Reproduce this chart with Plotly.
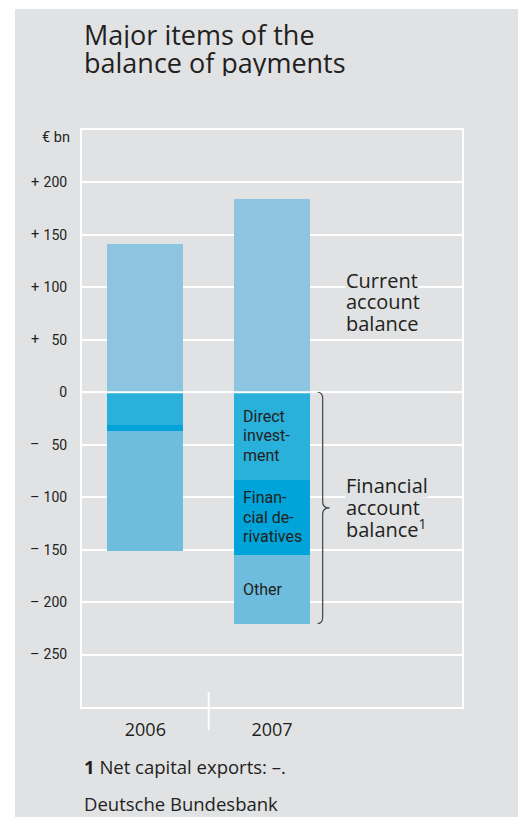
import plotly.graph_objects as go

# ---- data ----
years = ["2006", "2007"]
current_account = [141.5, 184.0]
direct_investment = [-31.0, -84.0]
financial_derivatives = [-6.0, -71.5]
other = [-114.0, -65.0]

y_ticks = [200, 150, 100, 50, 0, -50, -100, -150, -200, -250]
y_tick_text = ["200", "150", "100", "50", "0", "50", "100", "150", "200", "250"]
y_tick_sign = ["+", "+", "+", "+", "", "\u2013", "\u2013", "\u2013", "\u2013", "\u2013"]

# ---- style ----
BG = "#e1e2e4"
TXT = "#231f20"
C_CA = "#8dc4e0"
C_DI = "#29b0db"
C_FD = "#00a4d9"
C_OT = "#6ebcde"
FONT = "Open Sans"
FONT_N = "Roboto"

xpos = list(range(len(years)))
W, H = 518, 817
ML, MR, MT, MB = 82, 56, 130, 110
PW, PH = W - ML - MR, H - MT - MB


def px_x(p):
    return (p - ML) / PW


def px_y(p):
    return (H - MB - p) / PH


fig = go.Figure()
for name, vals, col in [
    ("Current account balance", current_account, C_CA),
    ("Direct investment", direct_investment, C_DI),
    ("Financial derivatives", financial_derivatives, C_FD),
    ("Other", other, C_OT),
]:
    fig.add_trace(go.Bar(x=xpos, y=vals, name=name, width=0.6,
                         marker=dict(color=col, line=dict(width=0)),
                         hoverinfo="skip", showlegend=False))

fig.update_layout(
    width=W, height=H,
    margin=dict(l=ML, r=MR, t=MT, b=MB),
    paper_bgcolor="white", plot_bgcolor=BG,
    barmode="relative", bargap=0,
    font=dict(family=FONT, color=TXT),
    xaxis=dict(range=[-0.5, 2.5], tickvals=xpos, ticktext=years,
               showgrid=False, zeroline=False, showline=True, mirror=True,
               linecolor="white", linewidth=2, ticks="",
               tickfont=dict(family=FONT, size=18, color=TXT),
               ticklabelstandoff=5),
    yaxis=dict(range=[-300, 250], tickvals=y_ticks, ticktext=y_tick_text,
               showgrid=True, gridcolor="white", gridwidth=2, zeroline=False,
               showline=True, mirror=True, linecolor="white", linewidth=2,
               ticks="", tickfont=dict(family=FONT_N, size=14, color=TXT),
               ticklabelstandoff=10),
)

shapes = []
# gray background panel
shapes.append(dict(type="rect", xref="paper", yref="paper", layer="below",
                   x0=px_x(15), x1=px_x(W + 5), y0=px_y(H + 5), y1=px_y(9),
                   fillcolor=BG, line=dict(width=0)))
# zero line over bars
shapes.append(dict(type="line", xref="paper", yref="y", x0=0, x1=1, y0=0, y1=0,
                   line=dict(color="white", width=2), layer="above"))
# separator tick between years
shapes.append(dict(type="line", xref="x", yref="paper", x0=0.5, x1=0.5,
                   y0=px_y(730), y1=px_y(692), line=dict(color="white", width=2)))
# brace for 2007 financial account
y0 = 0.0
y1 = direct_investment[1] + financial_derivatives[1] + other[1]
ym = (y0 + y1) / 2
xs, xv, xt = 1.36, 1.40, 1.455
r = 6.0
path = (f"M {xs},{y0} Q {xv},{y0} {xv},{y0 - r} L {xv},{ym + r} "
        f"Q {xv},{ym} {xt},{ym} Q {xv},{ym} {xv},{ym - r} "
        f"L {xv},{y1 + r} Q {xv},{y1} {xs},{y1}")
shapes.append(dict(type="path", xref="x", yref="y", path=path,
                   line=dict(color="#444444", width=1.2)))
fig.update_layout(shapes=shapes)

ann = []
# title
for i, line in enumerate(["Major items of the", "balance of payments"]):
    ann.append(dict(xref="paper", yref="paper", x=px_x(82), y=px_y(34 + 28 * i),
                    xanchor="left", yanchor="middle", align="left", showarrow=False,
                    height=28, text=line, font=dict(family=FONT, size=27, color=TXT)))
# unit
ann.append(dict(xref="paper", yref="paper", x=px_x(72), y=px_y(137),
                xanchor="right", yanchor="middle", showarrow=False,
                text="\u20ac bn", font=dict(family=FONT_N, size=14.5, color=TXT)))
# signs
for v, s in zip(y_ticks, y_tick_sign):
    if s:
        ann.append(dict(xref="paper", yref="y", x=px_x(35), y=v,
                        xanchor="center", yanchor="middle", showarrow=False,
                        text=s, font=dict(family=FONT_N, size=14.5, color=TXT)))


def multiline(lines, x, y, step, size, family, xshift=0, bg=None):
    n = len(lines)
    for i, t in enumerate(lines):
        d = dict(xref="x", yref="y", x=x, y=y, xshift=xshift,
                 yshift=((n - 1) / 2 - i) * step, height=step,
                 xanchor="left", yanchor="middle", align="left",
                 showarrow=False, text=t,
                 font=dict(family=family, size=size, color=TXT))
        if bg:
            d["bgcolor"] = bg
            d["borderpad"] = 0
        ann.append(d)


# bar labels (2007)
d1 = direct_investment[1]
d2 = d1 + financial_derivatives[1]
multiline(["Direct", "invest-", "ment"], 0.7, (0 + d1) / 2, 19.5, 16, FONT_N, xshift=7)
multiline(["Finan-", "cial de-", "rivatives"], 0.7, (d1 + d2) / 2, 19.5, 16, FONT_N, xshift=7)
multiline(["Other"], 0.7, (d2 + y1) / 2, 19.5, 16, FONT_N, xshift=7)
# series labels
multiline(["Current", "account", "balance"], 1.575, 86, 21.5, 20, FONT, bg=BG)
multiline(["Financial", "account", "balance<sup>1</sup>"], 1.575, ym, 21.5, 20, FONT, bg=BG)
# footnotes
ann.append(dict(xref="paper", yref="paper", x=px_x(82), y=px_y(766),
                xanchor="left", yanchor="middle", showarrow=False,
                text="<b>1</b> Net capital exports: \u2013.",
                font=dict(family=FONT, size=18.5, color=TXT)))
ann.append(dict(xref="paper", yref="paper", x=px_x(82), y=px_y(803),
                xanchor="left", yanchor="middle", showarrow=False,
                text="Deutsche Bundesbank",
                font=dict(family=FONT, size=18.5, color=TXT)))
fig.update_layout(annotations=ann)

fig.write_html("out.html")
